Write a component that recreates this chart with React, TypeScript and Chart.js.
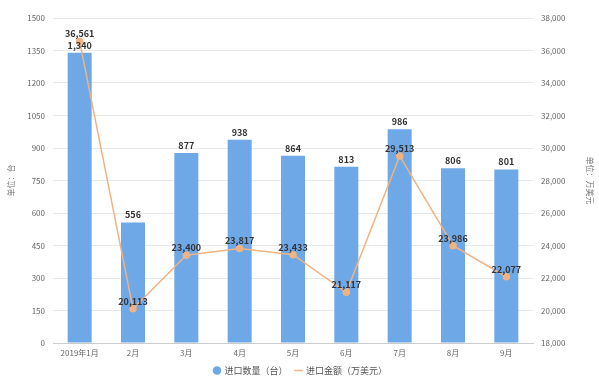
import React, { useEffect, useRef } from "react";
import { Chart, registerables } from "chart.js";

Chart.register(...registerables);

const categories = ["2019年1月", "2月", "3月", "4月", "5月", "6月", "7月", "8月", "9月"];
const quantity = [1340, 556, 877, 938, 864, 813, 986, 806, 801];
const amount = [36561, 20113, 23400, 23817, 23433, 21117, 29513, 23986, 22077];
const seriesNames = ["进口数量（台）", "进口金额（万美元）"];
const leftTitle = "单位：台";
const rightTitle = "单位：万美元";

const FONT = "'Noto Sans CJK SC', 'Noto Sans', sans-serif";
const BLUE = "#6ea8e6";
const ORANGE = "#f0b383";

const labelPlugin = {
  id: "valueLabels",
  afterDatasetsDraw(chart: any) {
    const ctx = chart.ctx;
    ctx.save();
    ctx.font = `bold 9px ${FONT}`;
    ctx.fillStyle = "#333";
    ctx.textAlign = "center";
    ctx.textBaseline = "bottom";
    const fmt = (v: number) => v.toLocaleString("en-US");
    chart.getDatasetMeta(0).data.forEach((el: any, i: number) => {
      ctx.fillText(fmt(quantity[i]), el.x, el.y - 3);
    });
    chart.getDatasetMeta(1).data.forEach((el: any, i: number) => {
      ctx.fillText(fmt(amount[i]), el.x, el.y - 3);
    });
    ctx.restore();
  },
};

export default function App() {
  const ref = useRef<HTMLCanvasElement>(null);
  useEffect(() => {
    if (!ref.current) return;
    const chart = new Chart(ref.current, {
      type: "bar",
      data: {
        labels: categories,
        datasets: [
          {
            type: "bar",
            label: seriesNames[0],
            data: quantity,
            backgroundColor: BLUE,
            yAxisID: "y",
            barPercentage: 0.45,
            categoryPercentage: 1,
            order: 2,
          },
          {
            type: "line",
            label: seriesNames[1],
            data: amount,
            borderColor: ORANGE,
            backgroundColor: ORANGE,
            borderWidth: 1.5,
            pointRadius: 3,
            pointBackgroundColor: ORANGE,
            pointBorderColor: ORANGE,
            yAxisID: "y1",
            order: 1,
          } as any,
        ],
      },
      options: {
        animation: false,
        responsive: false,
        maintainAspectRatio: false,
        layout: { padding: { top: 18, left: 6, right: 4, bottom: 2 } },
        plugins: {
          legend: {
            position: "bottom",
            labels: {
              font: { family: FONT, size: 9 },
              color: "#555",
              boxWidth: 6,
              boxHeight: 6,
              padding: 8,
              usePointStyle: true,
              generateLabels: () => [
                {
                  text: seriesNames[0],
                  fillStyle: BLUE,
                  strokeStyle: BLUE,
                  lineWidth: 0,
                  pointStyle: "circle",
                  datasetIndex: 0,
                  fontColor: "#555",
                } as any,
                {
                  text: seriesNames[1],
                  fillStyle: ORANGE,
                  strokeStyle: ORANGE,
                  lineWidth: 1.5,
                  pointStyle: "line",
                  datasetIndex: 1,
                  fontColor: "#555",
                } as any,
              ],
            },
          },
          tooltip: { enabled: false },
        },
        scales: {
          x: {
            grid: { display: false, drawTicks: false },
            border: { color: "#ccc" },
            ticks: { font: { family: FONT, size: 8 }, color: "#666", padding: 5, maxRotation: 0 },
            afterFit: (s: any) => { s.height = 15; },
          },
          y: {
            position: "left",
            min: 0,
            max: 1500,
            ticks: {
              stepSize: 150,
              font: { family: FONT, size: 8 },
              color: "#666",
              padding: 8,
              callback: (v: any) => String(v),
            },
            grid: { color: "#e8e8e8", drawTicks: false },
            border: { display: false },
            title: { display: true, text: leftTitle, font: { family: FONT, size: 8 }, color: "#777", padding: 0 },
            afterFit: (s: any) => { s.width = 47; },
          },
          y1: {
            position: "right",
            min: 18000,
            max: 38000,
            ticks: {
              stepSize: 2000,
              font: { family: FONT, size: 8 },
              color: "#666",
              padding: 8,
              callback: (v: any) => Number(v).toLocaleString("en-US"),
            },
            grid: { display: false, drawTicks: false },
            border: { display: false },
            title: { display: true, text: rightTitle, font: { family: FONT, size: 8 }, color: "#777", padding: 0 },
            afterFit: (s: any) => { s.width = 62; },
          },
        },
      },
      plugins: [labelPlugin],
    });
    return () => chart.destroy();
  }, []);
  return (
    <div style={{ position: "fixed", left: 0, top: 0, width: 599, height: 387, background: "#fff" }}>
      <canvas ref={ref} width={599} height={387} style={{ display: "block" }} />
    </div>
  );
}
